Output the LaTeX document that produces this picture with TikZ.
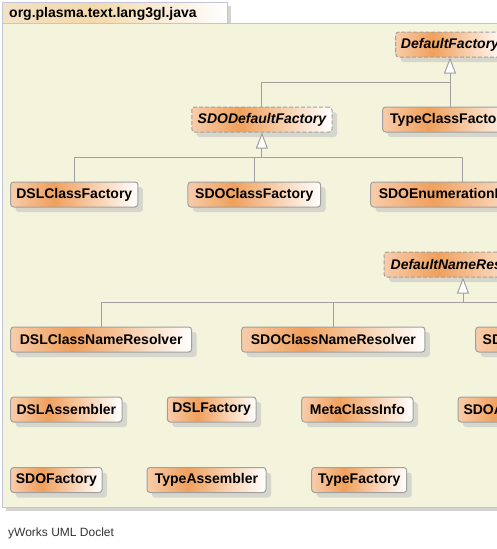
\documentclass[tikz,border=0pt]{standalone}
\usepackage{fontspec}
\setmainfont{Liberation Sans}
\usetikzlibrary{arrows.meta,shadows}
\definecolor{pkgbg}{HTML}{F4F4DC}
\definecolor{pkgline}{HTML}{C0C6D8}
\definecolor{pkgshadow}{HTML}{D4D4D4}
\definecolor{tabL}{HTML}{F2E2C6}
\definecolor{tabM}{HTML}{F4D8AA}
\definecolor{nodeL}{HTML}{F8CCAA}
\definecolor{nodeM}{HTML}{F0A05C}
\definecolor{nodeline}{HTML}{A0A0A0}
\definecolor{shadowc}{HTML}{D6D6CC}
\definecolor{conn}{HTML}{A0A0A0}
\definecolor{foot}{HTML}{333333}
\pgfdeclarehorizontalshading{umlnode}{100bp}{color(0bp)=(nodeL); color(25bp)=(nodeL); color(42bp)=(nodeM); color(75bp)=(white); color(100bp)=(white)}
\pgfdeclarehorizontalshading{tabshade}{100bp}{color(0bp)=(tabL); color(25bp)=(tabL); color(45bp)=(tabM); color(75bp)=(white); color(100bp)=(white)}
\begin{document}
\begin{tikzpicture}[x=1pt,y=-1pt,
  cls/.style={rectangle, rounded corners=3pt, draw=nodeline, line width=1pt, shading=umlnode,
    minimum height=25pt, inner sep=0pt, text=black,
    font=\bfseries\fontsize{14}{16}\selectfont,
    drop shadow={shadow xshift=5pt, shadow yshift=-5pt, fill=shadowc, opacity=1}},
  abstr/.style={cls, dash pattern=on 4pt off 2pt, font=\bfseries\itshape\fontsize{14}{16}\selectfont},
  conline/.style={draw=conn, line width=1pt},
  gen/.style={conline, -{Triangle[length=16pt,width=12pt,fill=white,line width=1pt]}}]
\useasboundingbox (0,0) rectangle (497,549);
\clip (0,0) rectangle (497,549);
% package
\fill[pkgshadow] (6,27) rectangle (520,511);
\fill[pkgshadow] (6,6) rectangle (231,23);
\draw[pkgline, fill=pkgbg, line width=1pt] (2,23) rectangle (520,507);
\draw[pkgline, shading=tabshade, line width=1pt] (2,2) rectangle (227,23);
\node[anchor=west, inner sep=0pt, font=\bfseries\fontsize{14}{16}\selectfont] (title) at (9,13.5) {org.plasma.text.lang3gl.java};
\node[anchor=west, inner sep=0pt, text=foot, font=\fontsize{12}{14}\selectfont] (footer) at (8,533) {yWorks UML Doclet};
% classes
\node[abstr, minimum width=108.6pt] (df) at (450,44.5) {DefaultFactory};
\node[abstr, minimum width=140.3pt] (sdf) at (261.9,119.5) {SDODefaultFactory};
\node[cls, minimum width=134.6pt] (tcf) at (450,119.5) {TypeClassFactory};
\node[cls, minimum width=127.3pt] (dslcf) at (74.3,194.5) {DSLClassFactory};
\node[cls, minimum width=132.7pt] (sdocf) at (254.3,194.5) {SDOClassFactory};
\node[cls, minimum width=182.6pt] (sdoef) at (462,194.5) {SDOEnumerationFactory};
\node[abstr, minimum width=158pt] (dnr) at (463,264.5) {DefaultNameResolver};
\node[cls, minimum width=181pt] (dslcnr) at (101.2,339.5) {DSLClassNameResolver};
\node[cls, minimum width=183.3pt] (sdocnr) at (333.3,339.5) {SDOClassNameResolver};
\node[cls, minimum width=200pt] (sdoinr) at (575.7,339.5) {SDOInterfaceNameResolver};
\node[cls, minimum width=111.3pt] (dsla) at (66.35,409.5) {DSLAssembler};
\node[cls, minimum width=88.7pt] (dslf) at (211.65,409.5) {DSLFactory};
\node[cls, minimum width=111.3pt] (mci) at (357.35,409.5) {MetaClassInfo};
\node[cls, minimum width=113pt] (sdoa) at (514.5,409.5) {SDOAssembler};
\node[cls, minimum width=91.3pt] (sdofa) at (56.35,480) {SDOFactory};
\node[cls, minimum width=119pt] (ta) at (206.5,480) {TypeAssembler};
\node[cls, minimum width=95pt] (tf) at (359.2,480) {TypeFactory};
% connectors
\coordinate (j1) at (450,82);
\coordinate (j2) at (261.9,157);
\coordinate (j3) at (463,302);
\draw[gen] (tcf.north) -- (df.south);
\draw[conline] (sdf.north) |- (j1);
\draw[gen] (j2) -- (sdf.south);
\draw[conline] (dslcf.north) |- (j2);
\draw[conline] (sdoef.north) |- (j2);
\draw[conline] (sdocf.north) -- (sdocf.north |- j2);
\draw[gen] (j3) -- (dnr.south);
\draw[conline] (dslcnr.north) |- (j3);
\draw[conline] (sdoinr.north) |- (j3);
\draw[conline] (sdocnr.north) -- (sdocnr.north |- j3);
\end{tikzpicture}
\end{document}
